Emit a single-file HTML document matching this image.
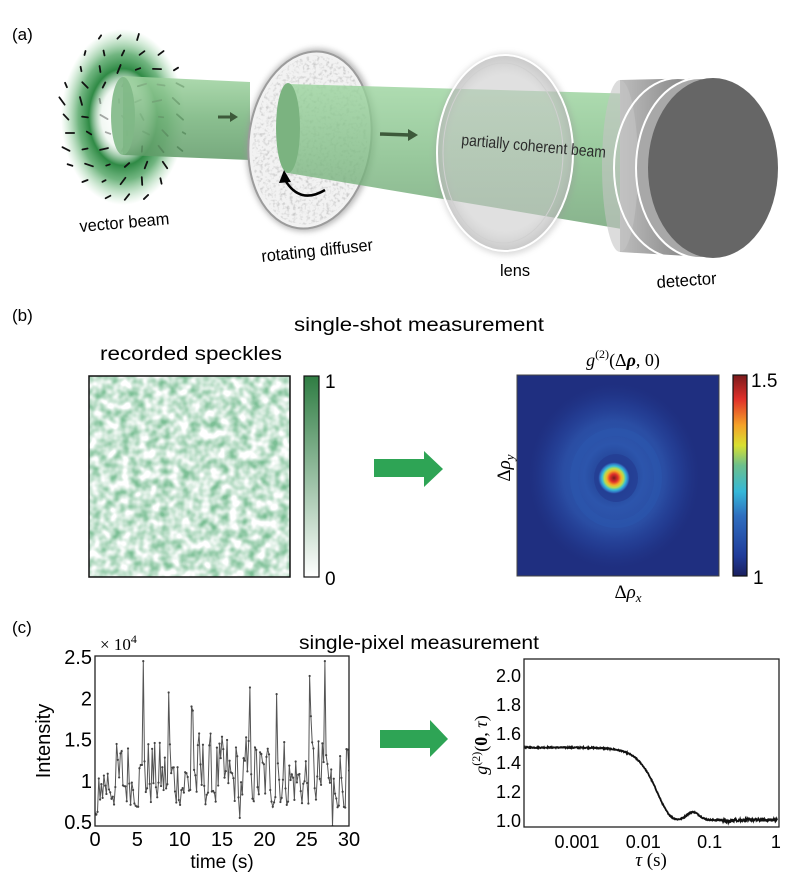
<!DOCTYPE html>
<html><head><meta charset="utf-8">
<style>
html,body{margin:0;padding:0;background:#fff;}
svg{display:block;font-family:"Liberation Sans",sans-serif;}
</style></head>
<body>
<svg id="s" width="799" height="884" viewBox="0 0 799 884" xmlns="http://www.w3.org/2000/svg">
<defs>
  <radialGradient id="ring" cx="0.5" cy="0.5" r="0.5">
    <stop offset="0" stop-color="#fff" stop-opacity="0"/>
    <stop offset="0.35" stop-color="#e8f3ea" stop-opacity="0.6"/>
    <stop offset="0.55" stop-color="#2f8a45"/>
    <stop offset="0.72" stop-color="#4ea361" stop-opacity="0.8"/>
    <stop offset="1" stop-color="#8fd09a" stop-opacity="0"/>
  </radialGradient>
  <linearGradient id="beam1" x1="0" y1="0" x2="0" y2="1">
    <stop offset="0" stop-color="#9fd3a0" stop-opacity="0.85"/>
    <stop offset="0.5" stop-color="#76b47c" stop-opacity="0.85"/>
    <stop offset="1" stop-color="#5f9a67" stop-opacity="0.85"/>
  </linearGradient>
  <linearGradient id="beam2" x1="0" y1="0" x2="0" y2="1">
    <stop offset="0" stop-color="#9bd49e" stop-opacity="0.8"/>
    <stop offset="0.5" stop-color="#7fbb84" stop-opacity="0.8"/>
    <stop offset="1" stop-color="#6a9f70" stop-opacity="0.8"/>
  </linearGradient>
  <radialGradient id="lensg" cx="0.5" cy="0.5" r="0.5">
    <stop offset="0.8" stop-color="#e8e8e8" stop-opacity="0.35"/>
    <stop offset="1" stop-color="#bbb" stop-opacity="0.6"/>
  </radialGradient>
  <linearGradient id="det" x1="0" y1="0" x2="1" y2="0">
    <stop offset="0" stop-color="#bdbdbd"/>
    <stop offset="0.5" stop-color="#9a9a9a"/>
    <stop offset="1" stop-color="#7a7a7a"/>
  </linearGradient>
  <linearGradient id="gcb" x1="0" y1="1" x2="0" y2="0">
    <stop offset="0" stop-color="#ffffff"/>
    <stop offset="1" stop-color="#2f7d43"/>
  </linearGradient>
  <linearGradient id="jet" x1="0" y1="1" x2="0" y2="0">
    <stop offset="0" stop-color="#1a1f5e"/>
    <stop offset="0.1" stop-color="#203c9a"/>
    <stop offset="0.3" stop-color="#2f6fc0"/>
    <stop offset="0.42" stop-color="#35b8d8"/>
    <stop offset="0.55" stop-color="#6cc08c"/>
    <stop offset="0.65" stop-color="#d8e030"/>
    <stop offset="0.75" stop-color="#f4a228"/>
    <stop offset="0.88" stop-color="#e0302a"/>
    <stop offset="1" stop-color="#7a1a1c"/>
  </linearGradient>
  <radialGradient id="blob" cx="0.5" cy="0.5" r="0.5">
    <stop offset="0" stop-color="#7a1a1c"/>
    <stop offset="0.25" stop-color="#e0302a"/>
    <stop offset="0.45" stop-color="#f4b028"/>
    <stop offset="0.6" stop-color="#b8dc50"/>
    <stop offset="0.75" stop-color="#38bcd8"/>
    <stop offset="0.9" stop-color="#2f6fc0"/>
    <stop offset="1" stop-color="#2a4da8" stop-opacity="0"/>
  </radialGradient>
  <radialGradient id="halo" cx="0.5" cy="0.5" r="0.5">
    <stop offset="0" stop-color="#1e3585"/>
    <stop offset="0.35" stop-color="#2c55ac"/>
    <stop offset="0.6" stop-color="#2a4da3"/>
    <stop offset="0.8" stop-color="#25429a" stop-opacity="0.6"/>
    <stop offset="1" stop-color="#213a8e" stop-opacity="0"/>
  </radialGradient>
  <filter id="sp" x="0" y="0" width="1" height="1">
    <feTurbulence type="fractalNoise" baseFrequency="0.1" numOctaves="2" seed="5"/>
    <feColorMatrix type="matrix" values="0 0 0 0 0.2  0 0 0 0 0.52  0 0 0 0 0.3  1.9 0 0 0 -0.55"/>
  </filter>
  <filter id="df" x="0" y="0" width="1" height="1">
    <feTurbulence type="fractalNoise" baseFrequency="0.3" numOctaves="2" seed="2"/>
    <feColorMatrix type="matrix" values="0 0 0 0 0.5  0 0 0 0 0.5  0 0 0 0 0.5  -2.0 0 0 0 1.05"/>
  </filter>
  <filter id="blur3"><feGaussianBlur stdDeviation="3"/></filter>
  <clipPath id="spc"><rect x="89" y="376" width="201" height="201"/></clipPath>
  <clipPath id="dfc"><ellipse cx="310" cy="140" rx="57" ry="85" transform="rotate(8 310 140)"/></clipPath>
  <clipPath id="hmc"><rect x="517" y="375" width="202" height="201"/></clipPath>
  <clipPath id="c1"><rect x="95" y="656" width="254" height="170"/></clipPath>
  <clipPath id="c2"><rect x="524" y="659" width="255" height="168"/></clipPath>
</defs>

<text x="12" y="40" font-size="17">(a)</text>
<ellipse cx="123" cy="117" rx="62" ry="88" fill="url(#ring)"/>
<g id="dashes" stroke="#111" stroke-width="1.8" stroke-linecap="round"></g>
<path d="M123,76 L250,82 L250,160 L123,155 Z" fill="url(#beam1)"/>
<ellipse cx="123" cy="116" rx="12" ry="39" fill="#7fb886" opacity="0.9"/>
<path d="M218,117 L232,117" stroke="#3d5a3a" stroke-width="3"/><path d="M230,112 L238,117 L230,122z" fill="#3d5a3a"/>
<ellipse cx="311" cy="140" rx="64" ry="92" fill="#9a9a9a" transform="rotate(8 311 140)" filter="url(#blur3)" opacity="0.7"/>
<ellipse cx="310" cy="140" rx="61" ry="89" fill="#f2f2f2" stroke="#9c9c9c" stroke-width="2" transform="rotate(8 310 140)"/>
<g clip-path="url(#dfc)"><rect x="240" y="40" width="140" height="200" fill="#fff" filter="url(#df)"/></g>
<path d="M288,84 L640,94 L640,232 L288,173 Z" fill="url(#beam2)"/>
<ellipse cx="288" cy="128" rx="12" ry="45" fill="#7bb380"/>
<path d="M380,134 L410,135" stroke="#3d5a3a" stroke-width="3.5"/><path d="M408,129 L418,135 L408,141z" fill="#3d5a3a"/>
<path d="M325,190 Q300,205 285,180" fill="none" stroke="#000" stroke-width="2.5"/>
<path d="M279,183 L284,170 L291,182z" fill="#000"/>
<ellipse cx="506" cy="154" rx="71" ry="101" fill="#999" opacity="0.35" filter="url(#blur3)"/>
<ellipse cx="505" cy="153" rx="68" ry="98" fill="url(#lensg)" stroke="#fff" stroke-width="2"/>
<ellipse cx="503" cy="153" rx="60" ry="90" fill="none" stroke="#d0d0d0" stroke-width="1"/>
<path d="M620,80 L705,78 L705,257 L620,252 Z" fill="url(#det)"/>
<ellipse cx="620" cy="166" rx="18" ry="86" fill="#c4c4c4" opacity="0.6"/>
<ellipse cx="678" cy="168" rx="64" ry="90" fill="none" stroke="#fff" stroke-width="2"/>
<ellipse cx="700" cy="168" rx="64" ry="90" fill="#a8a8a8" stroke="#fff" stroke-width="2"/>
<ellipse cx="713" cy="168" rx="65" ry="90" fill="#666"/>
<text x="80" y="232" font-size="17" textLength="90" lengthAdjust="spacingAndGlyphs" transform="rotate(-5 80 232)">vector beam</text>
<text x="262" y="262" font-size="17" textLength="112" lengthAdjust="spacingAndGlyphs" transform="rotate(-6 262 262)">rotating diffuser</text>
<text x="500" y="276" font-size="17" textLength="30" lengthAdjust="spacingAndGlyphs">lens</text>
<text x="657" y="288" font-size="17" textLength="60" lengthAdjust="spacingAndGlyphs" transform="rotate(-4 657 288)">detector</text>
<text x="461" y="145" font-size="16" textLength="145" lengthAdjust="spacingAndGlyphs" fill="#2b2b2b" transform="rotate(5 461 145)">partially coherent beam</text>

<text x="12" y="321" font-size="17">(b)</text>
<text x="419" y="331" font-size="19" text-anchor="middle" textLength="250" lengthAdjust="spacingAndGlyphs">single-shot measurement</text>
<text x="191" y="360" font-size="19" text-anchor="middle" textLength="182" lengthAdjust="spacingAndGlyphs">recorded speckles</text>
<rect x="89" y="376" width="201" height="201" fill="#fff"/>
<g clip-path="url(#spc)"><rect x="89" y="376" width="201" height="201" filter="url(#sp)"/></g>
<rect x="89" y="376" width="201" height="201" fill="none" stroke="#111" stroke-width="1.5"/>
<rect x="304" y="376" width="15" height="201" fill="url(#gcb)" stroke="#111" stroke-width="1.2"/>
<text x="325" y="388" font-size="19">1</text>
<text x="325" y="585" font-size="19">0</text>
<path d="M374,459 L424,459 L424,451 L443,469 L424,487 L424,477 L374,477 Z" fill="#2ea455"/>
<text x="623" y="366" font-size="18" text-anchor="middle" font-family="Liberation Serif, serif"><tspan font-style="italic">g</tspan><tspan font-size="12" dy="-8">(2)</tspan><tspan dy="8">(Δ</tspan><tspan font-weight="bold" font-style="italic">ρ</tspan><tspan>, 0)</tspan></text>
<g clip-path="url(#hmc)">
  <rect x="517" y="375" width="202" height="201" fill="#1f2f80"/>
  <ellipse cx="614" cy="476" rx="85" ry="92" fill="url(#halo)"/>
  <ellipse cx="616" cy="478" rx="42" ry="46" fill="none" stroke="#2c56ae" stroke-width="8" opacity="0.6"/>
  <ellipse cx="616" cy="478" rx="22" ry="24" fill="#233c92" opacity="0.7"/>
  <circle cx="614" cy="478" r="16" fill="url(#blob)"/>
</g>
<rect x="517" y="375" width="202" height="201" fill="none" stroke="#444" stroke-width="1"/>
<rect x="733" y="375" width="14" height="201" fill="url(#jet)" stroke="#111" stroke-width="1.2"/>
<text x="751" y="387" font-size="19">1.5</text>
<text x="753" y="584" font-size="19">1</text>
<text x="510" y="468" font-size="19" font-family="Liberation Serif, serif" text-anchor="middle" transform="rotate(-90 510 468)">Δ<tspan font-style="italic">ρ</tspan><tspan font-size="13" font-style="italic" dy="4">y</tspan></text>
<text x="628" y="598" font-size="19" font-family="Liberation Serif, serif" text-anchor="middle">Δ<tspan font-style="italic">ρ</tspan><tspan font-size="13" font-style="italic" dy="4">x</tspan></text>

<text x="12" y="633" font-size="17">(c)</text>
<text x="419" y="649" font-size="19" text-anchor="middle" textLength="240" lengthAdjust="spacingAndGlyphs">single-pixel measurement</text>
<text x="100" y="650" font-size="17" font-family="Liberation Serif, serif">× 10<tspan font-size="12" dy="-7">4</tspan></text>
<g clip-path="url(#c1)"><path id="p1" fill="none" stroke="#555" stroke-width="1"/><g id="dots1" fill="#444"></g></g>
<rect x="95" y="656" width="254" height="170" fill="none" stroke="#222" stroke-width="1.3"/>
<g font-size="20" text-anchor="end" id="yt1"></g>
<g font-size="20" text-anchor="middle" id="xt1"></g>
<text x="222" y="868" font-size="19" text-anchor="middle">time (s)</text>
<text x="50" y="741" font-size="20" text-anchor="middle" transform="rotate(-90 50 741)">Intensity</text>
<path d="M380,730 L430,730 L430,720 L448,739 L430,757 L430,748 L380,748 Z" fill="#2ea455"/>
<g clip-path="url(#c2)"><path id="p2" fill="none" stroke="#111" stroke-width="1.8"/></g>
<rect x="524" y="659" width="255" height="168" fill="none" stroke="#222" stroke-width="1.3"/>
<g font-size="18" text-anchor="end" id="yt2"></g>
<g font-size="18" text-anchor="middle" id="xt2"></g>
<text x="651" y="866" font-size="19" text-anchor="middle" font-family="Liberation Serif, serif"><tspan font-style="italic">τ</tspan> (s)</text>
<text x="487" y="745" font-size="18" text-anchor="middle" font-family="Liberation Serif, serif" transform="rotate(-90 487 745)"><tspan font-style="italic">g</tspan><tspan font-size="12" dy="-7">(2)</tspan><tspan dy="7">(</tspan><tspan font-weight="bold">0</tspan>, <tspan font-style="italic">τ</tspan>)</text>
</svg>
<script>
(function(){
var NS="http://www.w3.org/2000/svg";
function el(t,a,p,txt){var e=document.createElementNS(NS,t);for(var k in a)e.setAttribute(k,a[k]);if(txt!=null)e.textContent=txt;p.appendChild(e);return e;}
var seed=12345;function rnd(){seed=(seed*1103515245+12345)&0x7fffffff;return seed/0x7fffffff;}
var dg=document.getElementById('dashes');
for(var i=-3;i<=3;i++)for(var j=-5;j<=5;j++){
  var x=123+i*19+(j%2)*4,y=117+j*16;
  var dx=(x-123)/62,dy=(y-117)/88,r=Math.sqrt(dx*dx+dy*dy);
  if(r>1.05)continue;
  var ang=Math.atan2(dy,dx)+rnd()*1.2, L=1.5+rnd()*3;
  var o=r<0.45?0.35:1;
  el('line',{x1:x-L*Math.cos(ang),y1:y-L*Math.sin(ang),x2:x+L*Math.cos(ang),y2:y+L*Math.sin(ang),opacity:o},dg);
}
var X0=95,X1=349,Y25=657,Y05=822;
function px(t){return X0+(X1-X0)*t/30;} function py(v){return Y05+(Y25-Y05)*(v-0.5)/2;}
var spikes={38:2.45,58:2.07,76:1.9,77:1.85,122:2.13,143:2.05,169:2.27,181:2.45,187:0.45,114:0.55};
var d="",dots=document.getElementById('dots1'),prev=1.1;
for(var k=0;k<=200;k++){
  var t=k*0.15,v;
  if(spikes[k]!=null)v=spikes[k];
  else{v=0.62+Math.min(1.0,-Math.log(1-rnd()*0.97)*0.5);v=0.75*v+0.25*prev;}
  if(k<3)v=0.55+rnd()*0.08;
  prev=v;
  var xx=px(t),yy=py(v);d+=(k?"L":"M")+xx.toFixed(1)+","+yy.toFixed(1);
  el('circle',{cx:xx,cy:yy,r:1.1},dots);
}
document.getElementById('p1').setAttribute('d',d);
var yt=document.getElementById('yt1'),xt=document.getElementById('xt1');
[[0.5,"0.5"],[1,"1"],[1.5,"1.5"],[2,"2"],[2.5,"2.5"]].forEach(function(a){el('text',{x:92,y:py(a[0])+7},yt,a[1]);});
[0,5,10,15,20,25,30].forEach(function(a){el('text',{x:px(a),y:846},xt,""+a);});
function qx(lt){return 577+(lt+3)*66.3;} function qy(v){return 820-(v-1)*145;}
var d2="";
for(var lt=-3.9;lt<=0.02;lt+=0.006){
  var tau=Math.pow(10,lt);
  var v=1+0.5*Math.exp(-Math.pow(tau/0.0165,2.4));
  v+=0.055*Math.exp(-Math.pow((lt-Math.log10(0.056))/0.13,2));
  v-=0.012*Math.exp(-Math.pow((lt-Math.log10(0.19))/0.05,2));
  var n=lt<-1.6?0.004:(lt>-0.8?0.011:0.004);
  v+=(rnd()-0.5)*n*2;
  d2+=(d2?"L":"M")+qx(lt).toFixed(1)+","+qy(v).toFixed(1);
}
document.getElementById('p2').setAttribute('d',d2);
var yt2=document.getElementById('yt2'),xt2=document.getElementById('xt2');
["1.0","1.2","1.4","1.6","1.8","2.0"].forEach(function(s){el('text',{x:521,y:qy(parseFloat(s))+7},yt2,s);});
[[-3,"0.001"],[-2,"0.01"],[-1,"0.1"],[0,"1"]].forEach(function(a){el('text',{x:qx(a[0]),y:848},xt2,a[1]);});
})();
</script>
</body></html>
